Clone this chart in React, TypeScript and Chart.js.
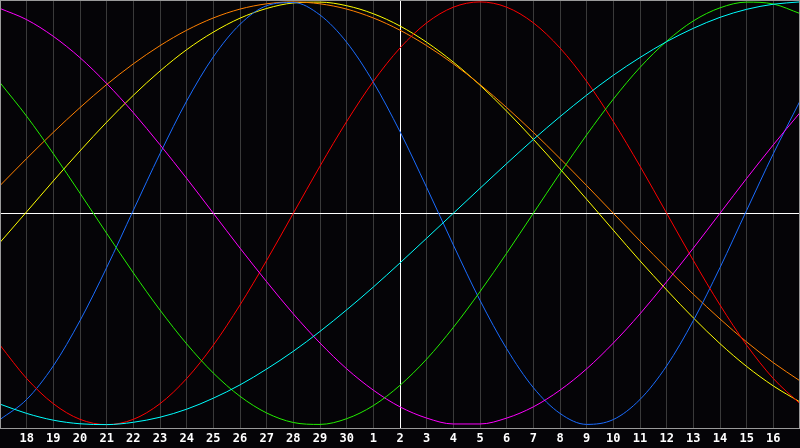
import React, { useEffect, useRef } from "react";
import { Chart, registerables } from "chart.js";

Chart.register(...registerables);

// Day labels along the bottom (first and last are the hidden edges)
const DAYS = [
  "17", "18", "19", "20", "21", "22", "23", "24", "25", "26", "27", "28", "29", "30",
  "1", "2", "3", "4", "5", "6", "7", "8", "9", "10", "11", "12", "13", "14", "15", "16", "17",
];

// Series values (-100 .. 100), one per day
const CYAN = [-90.3, -94.7, -97.9, -99.6, -100, -98.9, -96.5, -92.7, -87.5, -81.2, -73.7, -65.3, -55.9, -45.7, -34.9, -23.5, -11.8, 0, 11.8, 23.5, 34.9, 45.7, 55.9, 65.3, 73.7, 81.2, 87.5, 92.7, 96.5, 98.9, 100];
const GREEN = [61.8, 45.9, 28.2, 9.5, -9.5, -28.2, -45.8, -61.8, -75.6, -86.6, -94.5, -99.0, -99.9, -97.2, -91.0, -81.4, -69.0, -54.0, -37.1, -18.9, 0, 18.9, 37.1, 54.0, 69.0, 81.4, 91.0, 97.2, 99.9, 99.0, 94.5];
const MAGENTA = [96.9, 91.6, 83.7, 73.6, 61.4, 47.6, 32.4, 16.5, 0, -16.5, -32.4, -47.6, -61.4, -73.6, -83.7, -91.6, -96.9, -99.7, -99.7, -96.9, -91.6, -83.7, -73.6, -61.4, -47.6, -32.4, -16.5, 0, 16.5, 32.4, 47.6];
const RED = [-62.4, -78.2, -90.1, -97.5, -100, -97.5, -90.1, -78.2, -62.4, -43.4, -22.3, 0, 22.3, 43.4, 62.4, 78.2, 90.1, 97.5, 100, 97.5, 90.1, 78.2, 62.4, 43.4, 22.3, 0, -22.3, -43.4, -62.4, -78.2, -90.1];
const BLUE = [-97.6, -88.1, -72.2, -50.8, -25.7, 1.4, 28.2, 53.1, 74.0, 89.4, 98.2, 99.7, 93.8, 80.9, 62.0, 38.6, 12.2, -15.0, -41.2, -64.1, -82.5, -94.7, -99.9, -97.6, -88.1, -72.2, -50.8, -25.7, 1.4, 28.2, 53.1];
const ORANGE = [13.1, 25.9, 38.3, 50, 60.9, 70.7, 79.3, 86.6, 92.4, 96.6, 99.1, 100, 99.1, 96.6, 92.4, 86.6, 79.3, 70.7, 60.9, 50, 38.3, 25.9, 13.1, 0, -13.1, -25.9, -38.3, -50, -60.9, -70.7, -79.3];
const YELLOW = [-13.8, 0.7, 15.3, 29.5, 43.1, 55.8, 67.3, 77.4, 85.7, 92.3, 96.9, 99.5, 99.9, 98.2, 94.4, 88.6, 80.9, 71.5, 60.6, 48.3, 35.0, 21.0, 6.6, -8.0, -22.5, -36.3, -49.5, -61.7, -72.5, -81.7, -89.3];

const SERIES: [string, number[], string][] = [
  ["cyan", CYAN, "#00ffff"],
  ["green", GREEN, "#22ee00"],
  ["magenta", MAGENTA, "#ff00ff"],
  ["red", RED, "#ff0000"],
  ["blue", BLUE, "#1a6cff"],
  ["orange", ORANGE, "#ff8000"],
  ["yellow", YELLOW, "#ffff00"],
];

const bgPlugin = {
  id: "bgFrame",
  beforeDraw(chart: any) {
    const ctx = chart.ctx;
    ctx.save();
    ctx.fillStyle = "#050407";
    ctx.fillRect(0, 0, chart.width, chart.height);
    ctx.restore();
  },
  afterDraw(chart: any) {
    const ctx = chart.ctx;
    const a = chart.chartArea;
    ctx.save();
    ctx.strokeStyle = "#9a9a9a";
    ctx.lineWidth = 1;
    ctx.strokeRect(0.5, 0.5, chart.width - 1, a.bottom);
    ctx.restore();
  },
};

export default function App() {
  const ref = useRef<HTMLCanvasElement | null>(null);

  useEffect(() => {
    document.body.style.margin = "0";
    document.body.style.background = "#050407";
    const canvas = ref.current;
    if (!canvas) return;
    const chart = new Chart(canvas, {
      type: "line",
      data: {
        labels: DAYS,
        datasets: SERIES.map(([name, values, color]) => ({
          label: name,
          data: values,
          borderColor: color,
          borderWidth: 1,
          pointRadius: 0,
          fill: false,
          cubicInterpolationMode: "monotone" as const,
        })),
      },
      options: {
        responsive: false,
        animation: false,
        events: [],
        layout: { padding: 0, autoPadding: false },
        plugins: {
          legend: { display: false },
          tooltip: { enabled: false },
          title: { display: false },
        },
        scales: {
          x: {
            type: "category",
            offset: false,
            border: { display: false },
            grid: {
              drawTicks: false,
              lineWidth: 1,
              color: (c: any) =>
                c.index === 15 ? "#ffffff" : c.index === 0 || c.index === 30 ? "rgba(0,0,0,0)" : "#3a3a3a",
            },
            ticks: {
              autoSkip: false,
              maxRotation: 0,
              minRotation: 0,
              padding: 4,
              color: "#ffffff",
              font: { family: "'DejaVu Sans Mono', monospace", size: 12, weight: "bold" },
              callback: (_v: any, i: number) => (i === 0 || i === 30 ? "" : DAYS[i]),
            },
            afterFit: (s: any) => {
              s.height = 20;
              s.paddingLeft = 0;
              s.paddingRight = 0;
            },
          },
          y: {
            min: -101.6,
            max: 100.9,
            border: { display: false },
            grid: { drawTicks: false, color: "#ffffff", lineWidth: 1 },
            ticks: { display: false },
            afterBuildTicks: (s: any) => {
              s.ticks = [{ value: 0 }];
            },
            afterFit: (s: any) => {
              s.width = 0;
              s.paddingTop = 0;
              s.paddingBottom = 0;
            },
          },
        },
      },
      plugins: [bgPlugin],
    });
    return () => chart.destroy();
  }, []);

  return <canvas ref={ref} width={800} height={448} style={{ display: "block" }} />;
}
